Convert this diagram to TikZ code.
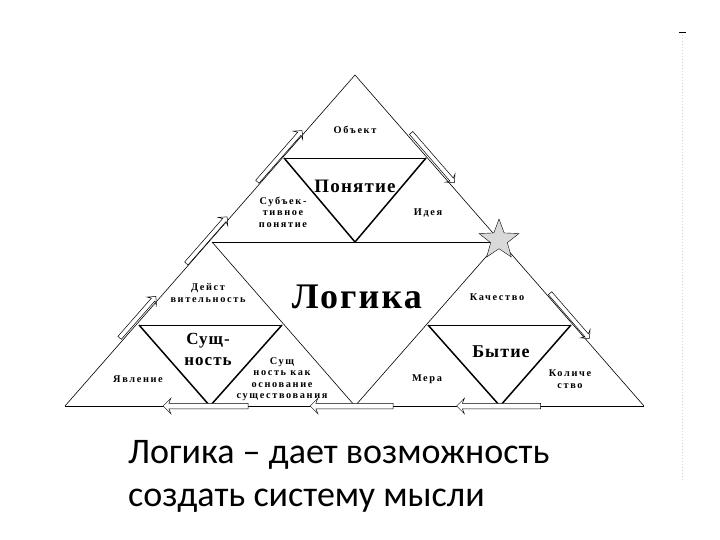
\documentclass[tikz,border=0pt]{standalone}
\usepackage{fontspec}
\usetikzlibrary{shapes.geometric,shapes.arrows}
\newfontfamily\lblfont[LetterSpace=16]{Liberation Serif}
\newfontfamily\bigfont[LetterSpace=6]{Liberation Serif}
\newfontfamily\capfont{Carlito}

\begin{document}
\begin{tikzpicture}[
  x=1pt,y=-1pt,
  lbl/.style={font=\lblfont\bfseries\fontsize{10.3}{11.5}\selectfont,align=center,inner sep=0pt},
  big/.style={font=\bigfont\bfseries\fontsize{18}{21}\selectfont,align=center,inner sep=0pt},
  edge/.style={line width=0.6pt},
  cut/.style={line width=0.9pt},
  inner/.style={line width=1.5pt},
  flow/.style={single arrow,draw,fill=white,line width=0.5pt,inner sep=2pt,
    single arrow head extend=4pt,single arrow head indent=2pt},
  flowb/.style={flow,inner sep=2.5pt,single arrow head extend=5pt}]
\useasboundingbox (0,0) rectangle (720,540);
% vertices
\coordinate (top) at (355,75);
\coordinate (bl) at (65,406);
\coordinate (br) at (644,406);
\coordinate (bm) at (355,406);
\coordinate (ml) at (212,242);
\coordinate (mr) at (499,242);
% big triangle and cuts
\draw[edge] (bl) -- (top) -- (br);
\draw[cut] (bl) -- (br);
\draw[cut] (ml) -- (mr);
\draw[edge] (ml) -- (bm) -- (mr);
% inner triangles
\coordinate (u1) at (284,158);
\coordinate (u2) at (426,158);
\coordinate (l1) at (139,325);
\coordinate (l2) at (282,325);
\coordinate (r1) at (428,325);
\coordinate (r2) at (571,325);
\draw[cut] (u1) -- (u2);
\draw[inner] (u1) -- (355,242) -- (u2);
\draw[cut] (l1) -- (l2);
\draw[inner] (l1) -- (210,406) -- (l2);
\draw[cut] (r1) -- (r2);
\draw[inner] (r1) -- (500,406) -- (r2);
% star
\node[star,star points=5,star point ratio=2.4,draw,fill=gray!30,minimum size=42pt,inner sep=0pt] (sun) at (499,240) {};
% arrows on the sides
\node[flow,minimum height=68pt,rotate=48.8] (a1) at (279,157) {};
\node[flow,minimum height=62pt,rotate=48.8] (a2) at (206,241) {};
\node[flow,minimum height=55pt,rotate=48.8] (a3) at (137,318) {};
\node[flow,minimum height=66pt,rotate=-49] (a4) at (432,157) {};
\node[flow,minimum height=60pt,rotate=-49] (a5) at (569,315) {};
\node[flowb,minimum height=85pt,rotate=180] (a6) at (207,406) {};
\node[flowb,minimum height=83pt,rotate=180] (a7) at (353,406) {};
\node[flowb,minimum height=84pt,rotate=180] (a8) at (500,406) {};
% labels
\node[lbl] (obj) at (355,130) {Объект};
\node[big,font=\bigfont\bfseries\fontsize{19}{21}\selectfont] (pon) at (355,186) {Понятие};
\node[lbl] (sub) at (283,212) {Субъек-\\тивное\\понятие};
\node[lbl] (ide) at (428,213) {Идея};
\node[big,font=\bigfont\bfseries\fontsize{36}{38}\selectfont] (log) at (357,297) {Логика};
\node[lbl] (dey) at (208,293) {Дейст\\вительность};
\node[lbl] (kach) at (497,297) {Качество};
\node[big,font=\bigfont\bfseries\fontsize{17}{21}\selectfont] (sus) at (208,349) {Сущ-\\ность};
\node[big] (byt) at (501,352) {Бытие};
\node[lbl] (yav) at (138,379) {Явление};
\node[lbl] (osn) at (282,379) {Сущ\\ность как\\основание\\существования};
\node[lbl] (mer) at (427,379) {Мера};
\node[lbl] (kol) at (570,379) {Количе\\ство};
% caption
\node[font=\capfont\fontsize{36}{43}\selectfont,align=left,anchor=north west,inner sep=0pt] (cap) at (128,440) {Логика – дает возможность\\создать систему мысли};
% right margin mark
\coordinate (m1) at (682,35);
\coordinate (m2) at (682,482);
\draw[line width=1pt] (679,33) -- (686,33);
\draw[gray!35,dotted,line width=1pt] (m1) -- (m2);
\end{tikzpicture}
\end{document}
